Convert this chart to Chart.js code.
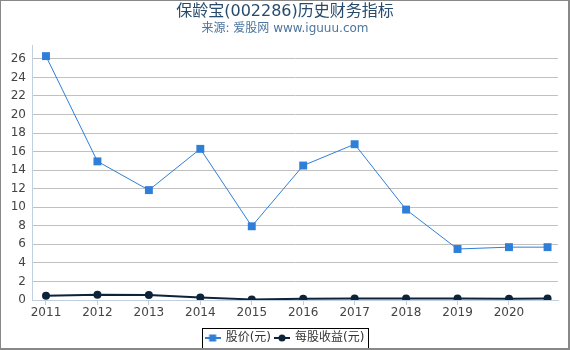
<!DOCTYPE html>
<html>
<head>
<meta charset="utf-8">
<script src="https://cdn.jsdelivr.net/npm/chart.js@4/dist/chart.umd.min.js"></script>
<style>
  html, body { margin: 0; padding: 0; background: #fff; }
  #wrap { position: relative; width: 570px; height: 350px; }
</style>
</head>
<body>
<div id="wrap"><canvas id="c" width="570" height="350"></canvas></div>
<script>
// ---- data ----
const years = [2011, 2012, 2013, 2014, 2015, 2016, 2017, 2018, 2019, 2020, 2020.75];
const price = [26.3, 14.95, 11.85, 16.3, 7.95, 14.5, 16.8, 9.75, 5.5, 5.7, 5.7];
const eps = [0.45, 0.57, 0.55, 0.28, 0.06, 0.13, 0.16, 0.16, 0.15, 0.13, 0.15];
const seriesNames = ['股价(元)', '每股收益(元)'];
const titleText = '保龄宝(002286)历史财务指标';
const subtitleText = '来源: 爱股网 www.iguuu.com';

const FONT = '"DejaVu Sans", "Noto Sans CJK SC", sans-serif';
const priceColor = '#2f7ed8';
const epsColor = '#0d233a';

function legendIcon(kind) {
  const cv = document.createElement('canvas');
  cv.width = 16; cv.height = 12;
  const g = cv.getContext('2d');
  g.strokeStyle = kind === 'rect' ? priceColor : epsColor;
  g.lineWidth = 2;
  g.beginPath(); g.moveTo(0, 6); g.lineTo(16, 6); g.stroke();
  g.fillStyle = kind === 'rect' ? priceColor : epsColor;
  if (kind === 'rect') { g.fillRect(4.5, 2.5, 7, 7); }
  else { g.beginPath(); g.arc(8, 6, 3.5, 0, Math.PI * 2); g.fill(); }
  return cv;
}
const icons = [legendIcon('rect'), legendIcon('circle')];

const framePlugin = {
  id: 'frame',
  beforeDraw(chart) {
    const ctx = chart.ctx;
    ctx.save(); ctx.fillStyle = '#fff'; ctx.fillRect(0, 0, chart.width, chart.height); ctx.restore();
  },
  afterDraw(chart) {
    const ctx = chart.ctx;
    ctx.save();
    const lg = chart.legend;
    if (lg && lg.legendHitBoxes && lg.legendHitBoxes.length) {
      let l = Infinity, r = -Infinity, t = Infinity, b = -Infinity;
      lg.legendHitBoxes.forEach(h => {
        l = Math.min(l, h.left); r = Math.max(r, h.left + h.width);
        t = Math.min(t, h.top); b = Math.max(b, h.top + h.height);
      });
      ctx.strokeStyle = '#000'; ctx.lineWidth = 1;
      ctx.strokeRect(Math.round(l - 4) + 0.5, Math.round(t - 4) + 0.5, Math.round(r - l + 7), Math.round(b - t + 8));
    }
    ctx.fillStyle = '#888';
    ctx.fillRect(0, 0, chart.width, 1);
    ctx.fillRect(0, 0, 1, chart.height);
    ctx.fillRect(chart.width - 2, 0, 2, chart.height);
    ctx.fillRect(0, chart.height - 2, chart.width, 2);
    ctx.restore();
  }
};

new Chart(document.getElementById('c'), {
  type: 'line',
  data: {
    datasets: [
      {
        label: seriesNames[0],
        data: years.map((x, i) => ({ x, y: price[i] })),
        borderColor: priceColor, backgroundColor: priceColor,
        borderWidth: 1, pointStyle: 'rect', pointRadius: 5.6,
        pointBorderWidth: 0, tension: 0, yAxisID: 'y'
      },
      {
        label: seriesNames[1],
        data: years.map((x, i) => ({ x, y: eps[i] })),
        borderColor: epsColor, backgroundColor: epsColor,
        borderWidth: 2, pointStyle: 'circle', pointRadius: 4,
        pointBorderWidth: 0, tension: 0, yAxisID: 'y'
      }
    ]
  },
  options: {
    responsive: false, animation: false, devicePixelRatio: 1,
    layout: { padding: { left: 0, right: 0, top: 0, bottom: -4 } },
    plugins: {
      title: { display: true, text: titleText, color: '#274b6d',
        font: { family: FONT, size: 16, weight: 'normal' }, padding: { top: 2, bottom: 0 } },
      subtitle: { display: true, text: subtitleText, color: '#4d759e',
        font: { family: FONT, size: 12, weight: 'normal' }, padding: { top: 0, bottom: 9.4 } },
      legend: {
        display: true, position: 'bottom',
        labels: {
          usePointStyle: true, pointStyleWidth: 14, padding: 4, color: '#333',
          font: { family: FONT, size: 12 },
          generateLabels(chart) {
            return chart.data.datasets.map((ds, i) => ({
              text: ds.label, pointStyle: icons[i], datasetIndex: i,
              fillStyle: ds.backgroundColor, strokeStyle: ds.borderColor, lineWidth: 0,
              fontColor: '#333', hidden: false
            }));
          }
        }
      },
      tooltip: { enabled: false }
    },
    scales: {
      x: {
        type: 'linear', min: 2010.728, max: 2020.953,
        grid: { drawOnChartArea: false, drawTicks: true, tickLength: 5, color: '#c0d0e0' },
        border: { display: true, color: '#c0d0e0' },
        ticks: { stepSize: 1, includeBounds: false, maxRotation: 0, autoSkip: false, padding: 1,
          color: '#444', font: { family: FONT, size: 12 },
          callback: v => String(Math.round(v)) },
        afterFit(s) { s.height = 28; }
      },
      y: {
        min: 0, max: 27.5,
        grid: { color: '#c0c0c0', drawTicks: false },
        border: { display: true, color: '#c0d0e0' },
        ticks: { stepSize: 2, includeBounds: false, padding: 6, color: '#444',
          font: { family: FONT, size: 12 } },
        afterFit(s) { s.width = 32; }
      },
      yr: {
        position: 'right', min: 0, max: 27.5,
        grid: { display: false, drawTicks: false },
        border: { display: false },
        ticks: { display: false },
        afterFit(s) { s.width = 12; }
      }
    }
  },
  plugins: [framePlugin]
});
</script>
</body>
</html>
